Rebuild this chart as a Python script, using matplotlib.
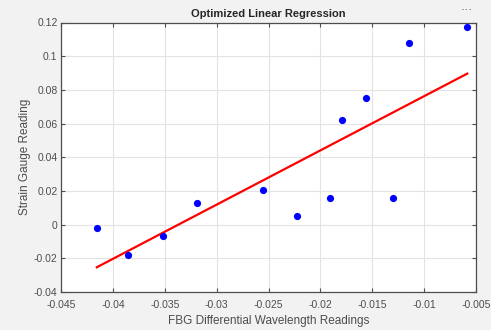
import numpy as np
import matplotlib
matplotlib.use("Agg")
import matplotlib.pyplot as plt

fbg_x = [-0.04155, -0.03856, -0.03518, -0.03187, -0.02553, -0.02229,
         -0.0191, -0.01302, -0.01788, -0.01559, -0.0115, -0.00584]
strain_y = [-0.0020, -0.0178, -0.0065, 0.0131, 0.0204, 0.0053,
            0.0156, 0.0160, 0.0623, 0.0752, 0.1076, 0.1175]

xticks = [-0.045, -0.04, -0.035, -0.03, -0.025, -0.02, -0.015, -0.01, -0.005]
xticklabels = ["-0.045", "-0.04", "-0.035", "-0.03", "-0.025", "-0.02", "-0.015", "-0.01", "-0.005"]
yticks = [-0.04, -0.02, 0, 0.02, 0.04, 0.06, 0.08, 0.1, 0.12]
yticklabels = ["-0.04", "-0.02", "0", "0.02", "0.04", "0.06", "0.08", "0.1", "0.12"]

plt.rcParams['font.family'] = ['Liberation Sans', 'DejaVu Sans']

fig = plt.figure(figsize=(4.91, 3.30), dpi=100, facecolor='#f2f2f2')
ax = fig.add_axes([61/491, 1-292/330, (476-61)/491, (292-22.5)/330])
ax.set_facecolor('white')

# regression line from the data
coef = np.polyfit(fbg_x, strain_y, 1)
lx = np.array([min(fbg_x), max(fbg_x)])
ax.plot(lx, np.polyval(coef, lx), color='#ff0000', lw=1.6, zorder=3)
ax.plot(fbg_x, strain_y, 'o', color='#0000ff', ms=5.2, mec='none', zorder=4)

ax.set_xlim(-0.045, -0.005)
ax.set_ylim(-0.04, 0.12)
ax.set_xticks(xticks)
ax.set_xticklabels(xticklabels)
ax.set_yticks(yticks)
ax.set_yticklabels(yticklabels)
ax.grid(True, color='#e3e3e3', lw=0.8)
ax.set_axisbelow(True)
ax.tick_params(direction='in', length=3, width=0.8, colors='#4d4d4d',
               labelsize=7.5, labelcolor='#4d4d4d', top=True, right=True, pad=2.5)
ax.tick_params(axis='x', pad=5.5)
for s in ax.spines.values():
    s.set_color('#4d4d4d')
    s.set_linewidth(0.9)

ax.set_title('Optimized Linear Regression', fontsize=8, fontweight='bold',
             color='#262626', pad=4)
ax.set_xlabel('FBG Differential Wavelength Readings', fontsize=8.5, color='#4d4d4d', labelpad=4)
ax.set_ylabel('Strain Gauge Reading', fontsize=8.5, color='#4d4d4d', labelpad=2)

fig.text(467/491, 1-10/330, '···', ha='center', va='center', fontsize=9, color='#606060')

fig.savefig('out.png', dpi=100, facecolor=fig.get_facecolor())
